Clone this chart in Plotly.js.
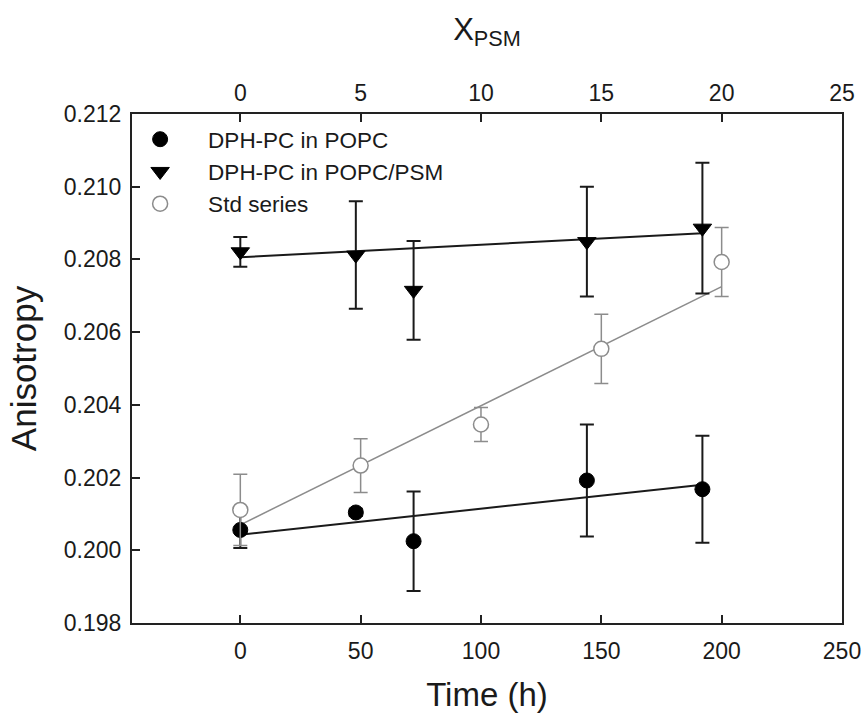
<!DOCTYPE html>
<html>
<head>
<meta charset="utf-8">
<script src="https://cdn.plot.ly/plotly-3.0.1.min.js"></script>
<style>html,body{margin:0;padding:0;background:#fff;}#chart{width:863px;height:713px;}</style>
</head>
<body>
<div id="chart"></div>
<script>
// Data
const timePOPC = [0, 48, 72, 144, 192];
const anisoPOPC = [0.20056, 0.20104, 0.20025, 0.20192, 0.20168];
const errPOPC = [0.0005, 0.0001, 0.00137, 0.00154, 0.00147];

const timePSM = [0, 48, 72, 144, 192];
const anisoPSM = [0.20821, 0.20812, 0.20715, 0.20849, 0.20886];
const errPSM = [0.00041, 0.00148, 0.00136, 0.00151, 0.0018];

const timeStd = [0, 50, 100, 150, 200];
const anisoStd = [0.20111, 0.20233, 0.20346, 0.20554, 0.20793];
const errStd = [0.00098, 0.00074, 0.00047, 0.00095, 0.00095];

// linear fit endpoints
const fitPOPCx = [0, 192];
const fitPOPCy = [0.20043, 0.20180];
const fitPSMx = [0, 192];
const fitPSMy = [0.20806, 0.20872];
const fitStdx = [0, 200];
const fitStdy = [0.20070, 0.20725];

const xRange = [-45, 250];
const xpsmTicks = [0, 5, 10, 15, 20, 25];
const yTicks = [0.198, 0.200, 0.202, 0.204, 0.206, 0.208, 0.210, 0.212];

const FONT = 'Arial, "Liberation Sans", sans-serif';
const INK = '#1a1a1a';
const GREY = '#8c8c8c';

const traces = [
  {x: fitPOPCx, y: fitPOPCy, mode: 'lines', line: {color: INK, width: 2}, showlegend: false, hoverinfo: 'skip'},
  {x: fitPSMx, y: fitPSMy, mode: 'lines', line: {color: INK, width: 2}, showlegend: false, hoverinfo: 'skip'},
  {x: fitStdx, y: fitStdy, mode: 'lines', line: {color: GREY, width: 1.5}, showlegend: false, hoverinfo: 'skip'},
  {
    name: 'DPH-PC in POPC', x: timePOPC, y: anisoPOPC, mode: 'markers',
    marker: {symbol: 'circle', size: 15, color: '#000', line: {color: '#000', width: 1}},
    error_y: {type: 'data', array: errPOPC, visible: true, color: INK, thickness: 2, width: 7}
  },
  {
    name: 'DPH-PC in POPC/PSM', x: timePSM, y: anisoPSM, mode: 'markers',
    marker: {symbol: 'triangle-down', size: 16, color: '#000', line: {color: '#000', width: 1}},
    error_y: {type: 'data', array: errPSM, visible: true, color: INK, thickness: 2, width: 7}
  },
  {
    name: 'Std series', x: timeStd, y: anisoStd, mode: 'markers',
    marker: {symbol: 'circle', size: 15, color: '#fff', line: {color: GREY, width: 1.5}},
    error_y: {type: 'data', array: errStd, visible: true, color: GREY, thickness: 1.5, width: 7}
  },
  // invisible carrier so the top X_PSM axis is drawn
  {x: xpsmTicks, y: xpsmTicks.map(() => yTicks[0]), xaxis: 'x2', yaxis: 'y', mode: 'markers',
   marker: {opacity: 0}, showlegend: false, hoverinfo: 'skip'}
];

const axisCommon = {
  showline: true, linecolor: '#222', linewidth: 2,
  ticks: 'inside', ticklen: 8, tickwidth: 2, tickcolor: '#222',
  showgrid: false, zeroline: false,
  tickfont: {family: FONT, size: 23, color: INK}
};

const layout = {
  width: 863, height: 713,
  margin: {l: 132, r: 21, t: 114, b: 90},
  paper_bgcolor: '#fff', plot_bgcolor: '#fff',
  font: {family: FONT, color: INK},
  showlegend: true,
  legend: {
    x: -0.028, y: 0.992, xanchor: 'left', yanchor: 'top',
    bgcolor: 'rgba(0,0,0,0)', borderwidth: 0,
    font: {family: FONT, size: 22.5, color: INK},
    itemwidth: 86, tracegroupgap: 0
  },
  xaxis: Object.assign({}, axisCommon, {
    range: xRange, tickmode: 'linear', tick0: 0, dtick: 50,
    mirror: true, ticklabelstandoff: 6,
    title: {text: 'Time (h)', font: {family: FONT, size: 33, color: INK}, standoff: 20}
  }),
  xaxis2: Object.assign({}, axisCommon, {
    overlaying: 'x', side: 'top', anchor: 'y',
    range: [xRange[0] / 10, xRange[1] / 10],
    tickmode: 'array', tickvals: xpsmTicks, ticktext: xpsmTicks.map(String),
    ticklabelstandoff: 2,
    title: {text: 'X<sub>PSM</sub>', font: {family: FONT, size: 31, color: INK}, standoff: 30}
  }),
  yaxis: Object.assign({}, axisCommon, {
    range: [0.198, 0.212], tickmode: 'array', tickvals: yTicks,
    ticktext: yTicks.map(v => v.toFixed(3)),
    mirror: true, ticklabelstandoff: 4,
    title: {text: 'Anisotropy', font: {family: FONT, size: 35, color: INK}, standoff: 17}
  })
};

Plotly.newPlot('chart', traces, layout, {displayModeBar: false, staticPlot: true});
</script>
</body>
</html>
